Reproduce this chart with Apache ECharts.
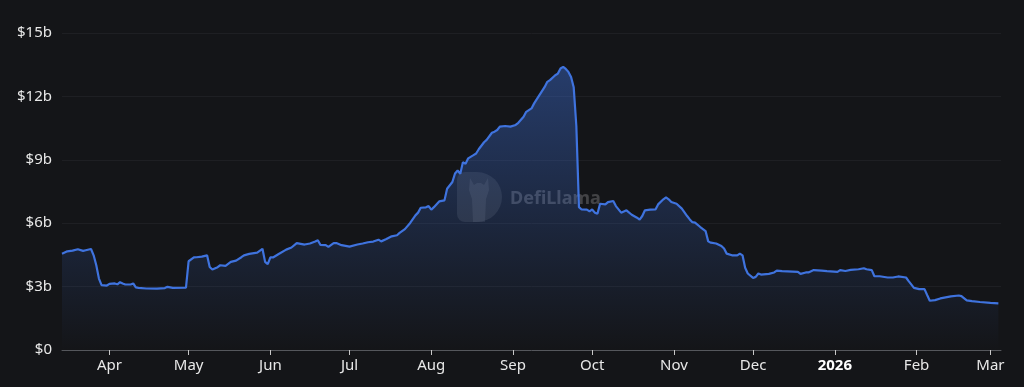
<!DOCTYPE html>
<html>
<head>
<meta charset="utf-8">
<style>
  html, body { margin: 0; padding: 0; background: #141518; }
  #chart { width: 1024px; height: 387px; }
</style>
<script src="https://cdn.jsdelivr.net/npm/echarts@6/dist/echarts.min.js"></script>
</head>
<body>
<div id="chart"></div>
<script>
// TVL in billions of USD
const dates = [
  '2025-03-14','2025-03-16','2025-03-18','2025-03-20','2025-03-22','2025-03-23','2025-03-25','2025-03-26','2025-03-27','2025-03-28','2025-03-29','2025-03-31',
  '2025-04-01','2025-04-03','2025-04-04','2025-04-05','2025-04-06','2025-04-07','2025-04-09','2025-04-10','2025-04-11','2025-04-12','2025-04-15','2025-04-19','2025-04-22','2025-04-23','2025-04-25','2025-04-30',
  '2025-05-01','2025-05-03','2025-05-04','2025-05-06','2025-05-08','2025-05-09','2025-05-10','2025-05-12','2025-05-13','2025-05-15','2025-05-17','2025-05-19','2025-05-21','2025-05-22','2025-05-24','2025-05-27','2025-05-29','2025-05-30','2025-05-31',
  '2025-06-01','2025-06-02','2025-06-04','2025-06-07','2025-06-09','2025-06-11','2025-06-14','2025-06-16','2025-06-18','2025-06-19','2025-06-20','2025-06-22','2025-06-23','2025-06-25','2025-06-26','2025-06-28',
  '2025-07-01','2025-07-04','2025-07-06','2025-07-08','2025-07-10','2025-07-12','2025-07-13','2025-07-15','2025-07-17','2025-07-19','2025-07-20','2025-07-22','2025-07-24','2025-07-26','2025-07-27','2025-07-28','2025-07-30','2025-07-31',
  '2025-08-01','2025-08-02','2025-08-04','2025-08-06','2025-08-07','2025-08-09','2025-08-10','2025-08-11','2025-08-12','2025-08-13','2025-08-14','2025-08-15','2025-08-17','2025-08-18','2025-08-19','2025-08-21','2025-08-22','2025-08-24','2025-08-25','2025-08-26','2025-08-27','2025-08-29','2025-08-31',
  '2025-09-02','2025-09-03','2025-09-05','2025-09-06','2025-09-08','2025-09-09','2025-09-11','2025-09-13','2025-09-14','2025-09-15','2025-09-17','2025-09-18','2025-09-19','2025-09-20','2025-09-21','2025-09-22','2025-09-23','2025-09-24','2025-09-25','2025-09-26','2025-09-27','2025-09-29','2025-09-30',
  '2025-10-01','2025-10-02','2025-10-03','2025-10-04','2025-10-06','2025-10-07','2025-10-09','2025-10-10','2025-10-12','2025-10-14','2025-10-16','2025-10-18','2025-10-19','2025-10-20','2025-10-21','2025-10-23','2025-10-25','2025-10-26','2025-10-28','2025-10-29','2025-10-30','2025-10-31',
  '2025-11-02','2025-11-04','2025-11-06','2025-11-07','2025-11-08','2025-11-09','2025-11-11','2025-11-13','2025-11-14','2025-11-15','2025-11-17','2025-11-19','2025-11-20','2025-11-21','2025-11-23','2025-11-25','2025-11-26','2025-11-27','2025-11-28','2025-11-29',
  '2025-12-01','2025-12-02','2025-12-03','2025-12-04','2025-12-07','2025-12-09','2025-12-10','2025-12-12','2025-12-16','2025-12-18','2025-12-19','2025-12-21','2025-12-22','2025-12-24','2025-12-27','2025-12-29',
  '2026-01-02','2026-01-03','2026-01-05','2026-01-07','2026-01-10','2026-01-12','2026-01-13','2026-01-15','2026-01-16','2026-01-18','2026-01-21','2026-01-23','2026-01-25','2026-01-28','2026-01-29','2026-01-31',
  '2026-02-02','2026-02-04','2026-02-05','2026-02-06','2026-02-08','2026-02-10','2026-02-12','2026-02-14','2026-02-17','2026-02-18','2026-02-20','2026-02-22','2026-02-25',
  '2026-03-01','2026-03-04'
];
const tvl = [
  4.56,4.67,4.70,4.77,4.69,4.72,4.78,4.48,4.01,3.38,3.07,3.05,
  3.13,3.15,3.11,3.21,3.15,3.10,3.10,3.15,2.96,2.94,2.91,2.90,2.93,2.99,2.94,2.95,
  4.20,4.38,4.39,4.42,4.48,3.93,3.81,3.92,4.01,3.98,4.17,4.23,4.39,4.48,4.55,4.61,4.79,4.17,4.06,
  4.38,4.38,4.53,4.75,4.85,5.06,4.99,5.04,5.13,5.19,4.97,4.96,4.88,5.06,5.06,4.96,
  4.89,4.99,5.04,5.10,5.13,5.22,5.14,5.25,5.38,5.43,5.54,5.72,6.01,6.37,6.50,6.73,6.75,6.81,
  6.64,6.76,7.03,7.08,7.63,7.95,8.35,8.49,8.34,8.89,8.81,9.07,9.22,9.30,9.50,9.83,9.94,10.28,10.33,10.41,10.57,10.60,10.57,
  10.65,10.75,11.04,11.27,11.43,11.67,12.06,12.45,12.69,12.77,13.00,13.08,13.32,13.40,13.30,13.16,12.92,12.43,10.60,6.76,6.65,6.64,6.56,
  6.65,6.50,6.45,6.92,6.89,7.00,7.05,6.81,6.50,6.61,6.40,6.26,6.17,6.34,6.61,6.64,6.65,6.89,7.13,7.22,7.13,7.00,
  6.92,6.69,6.34,6.18,6.05,6.03,5.82,5.63,5.14,5.08,5.04,4.92,4.80,4.56,4.48,4.48,4.56,4.48,3.89,3.62,
  3.41,3.46,3.62,3.57,3.60,3.67,3.76,3.73,3.71,3.70,3.60,3.67,3.67,3.78,3.76,3.73,
  3.70,3.78,3.74,3.79,3.82,3.87,3.82,3.78,3.49,3.49,3.43,3.43,3.48,3.43,3.26,2.94,
  2.88,2.88,2.60,2.33,2.36,2.44,2.49,2.54,2.58,2.55,2.35,2.31,2.27,
  2.23,2.21
];
const yTicks = [0, 3, 6, 9, 12, 15];
const axisStart = '2025-03-14';
const axisEnd = '2026-03-05';
const watermarkText = 'DefiLlama';

const seriesData = dates.map((d, i) => [d, tvl[i]]);

const chart = echarts.init(document.getElementById('chart'), null, { renderer: 'canvas' });
const FONT = '"Noto Sans", "Open Sans", sans-serif';

chart.setOption({
  backgroundColor: '#141518',
  animation: false,
  grid: { left: 62, right: 23, top: 33, bottom: 37, containLabel: false },
  xAxis: {
    type: 'time',
    min: axisStart,
    max: axisEnd,
    splitNumber: 12,
    axisLine: { show: true, lineStyle: { color: '#55575c', width: 1 } },
    axisTick: { show: true, length: 5, lineStyle: { color: '#c8c8c8' } },
    splitLine: { show: false },
    axisLabel: {
      color: '#e8e8e8',
      fontSize: 15,
      fontFamily: FONT,
      margin: 8,
      showMinLabel: false,
      showMaxLabel: false,
      formatter: {
        year: '{yr|{yyyy}}',
        month: '{MMM}',
        day: ''
      },
      rich: {
        yr: { fontWeight: 'bold', color: '#ffffff', fontSize: 15, fontFamily: FONT }
      }
    }
  },
  yAxis: {
    type: 'value',
    min: yTicks[0],
    max: yTicks[yTicks.length - 1],
    interval: 3,
    axisLine: { show: false },
    axisTick: { show: false },
    splitLine: { show: true, lineStyle: { color: '#1e1f23', width: 1 } },
    axisLabel: {
      color: '#e8e8e8',
      fontSize: 15,
      fontFamily: FONT,
      margin: 10,
      formatter: v => '$' + v + (v === 0 ? '' : 'b')
    }
  },
  graphic: [
    {
      type: 'rect', z: 1, silent: true,
      shape: { x: 457, y: 172, width: 45, height: 50, r: [8, 25, 25, 8] },
      style: { fill: 'rgba(255,255,255,0.09)' }
    },
    {
      type: 'polygon', z: 1, silent: true,
      shape: { points: [[470,178],[474,185],[477,183],[481,183],[484,185],[488,178],[489,190],[486,199],[485,222],[473,222],[472,199],[469,190]] },
      style: { fill: 'rgba(255,255,255,0.08)' }
    },
    {
      type: 'text', z: 1, silent: true,
      style: {
        text: watermarkText, x: 510, y: 199,
        fill: 'rgba(255,255,255,0.2)',
        font: 'bold 18px "Noto Sans", sans-serif',
        verticalAlign: 'middle', align: 'left'
      }
    }
  ],
  series: [{
    type: 'line',
    data: seriesData,
    showSymbol: false,
    symbol: 'none',
    smooth: false,
    lineStyle: { color: '#3f73de', width: 2.2 },
    itemStyle: { color: '#3f73de' },
    areaStyle: {
      color: new echarts.graphic.LinearGradient(0, 0, 0, 1, [
        { offset: 0, color: 'rgba(63,115,222,0.6)' },
        { offset: 1, color: 'rgba(63,115,222,0.0)' }
      ])
    },
    z: 2
  }]
});
</script>
</body>
</html>
